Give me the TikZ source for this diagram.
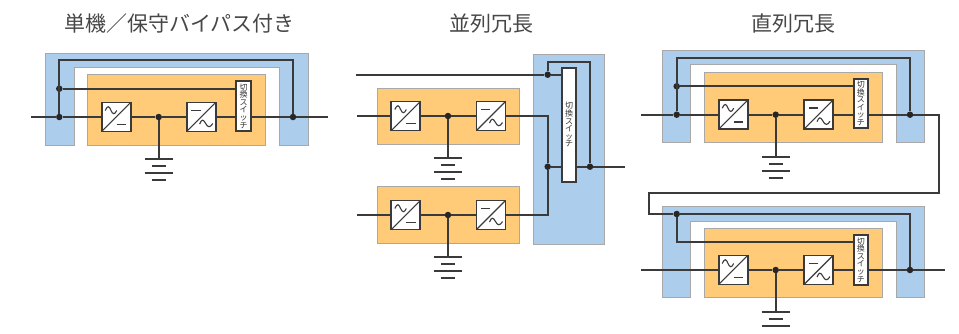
\documentclass[tikz,border=0pt]{standalone}
\usepackage{fontspec}
\setmainfont{Noto Sans CJK JP}
\definecolor{panelorange}{HTML}{FFCB78}
\definecolor{panelblue}{HTML}{ACCDEC}
\definecolor{panelgrey}{HTML}{A8A8A8}
\definecolor{wire}{HTML}{3A3A3A}
\begin{document}
\begin{tikzpicture}[x=1pt, y=-1pt]
        \tikzstyle{heading}=[font=\fontsize{21}{21}\selectfont, text=black!72, inner sep=0pt]
        \tikzstyle{panel}=[rectangle, draw=panelgrey, fill=panelorange, line width=1pt, inner sep=0pt]
        \tikzstyle{bypass}=[draw=panelgrey, fill=panelblue, line width=1pt]
        \tikzstyle{line}=[draw=wire, line width=1.9pt]
        \tikzstyle{dot}=[circle, fill=black!85, inner sep=0pt, minimum size=6.5pt]
        \tikzstyle{conv}=[rectangle, draw=wire, fill=white, line width=1.9pt, inner sep=0pt, minimum size=29pt]
        \tikzstyle{acdc}=[conv, path picture={
            \draw[wire, line width=1.1pt] (path picture bounding box.south west) -- (path picture bounding box.north east);
            \draw[wire, line width=1.1pt, shift={(path picture bounding box.center)}] (-11,-6.5) .. controls (-8.5,-12) and (-7,-11) .. (-5.2,-6.5) .. controls (-3.5,-2.5) and (-1.5,-2) .. (0.5,-6.5);
            \draw[wire, line width=1.1pt, shift={(path picture bounding box.center)}] (0.5,7.3) -- (10,7.3);
        }]
        \tikzstyle{dcac}=[conv, path picture={
            \draw[wire, line width=1.1pt] (path picture bounding box.south west) -- (path picture bounding box.north east);
            \draw[wire, line width=1.1pt, shift={(path picture bounding box.center)}] (-10,-6.7) -- (-0.7,-6.7);
            \draw[wire, line width=1.1pt, shift={(path picture bounding box.center)}] (-1.5,7) .. controls (0.5,2) and (2,2) .. (4.5,6.5) .. controls (6.5,10.5) and (9,11) .. (11.5,6.5);
        }]
        \tikzstyle{switch}=[rectangle, draw=wire, fill=white, line width=1.9pt, inner sep=0pt, minimum width=14.5pt, align=center, text=black!80, font=\fontsize{8}{7.6}\selectfont]
        \tikzstyle{earth}=[rectangle, anchor=north, inner sep=0pt, minimum width=28.4pt, minimum height=24pt, path picture={
            \draw[wire, line width=1.9pt] ([yshift=-1pt]path picture bounding box.north west) -- ([yshift=-1pt]path picture bounding box.north east);
            \draw[wire, line width=1.9pt] ([xshift=7pt,yshift=-8pt]path picture bounding box.north west) -- ([xshift=-7pt,yshift=-8pt]path picture bounding box.north east);
            \draw[wire, line width=1.9pt] ([yshift=-15pt]path picture bounding box.north west) -- ([yshift=-15pt]path picture bounding box.north east);
            \draw[wire, line width=1.9pt] ([xshift=7pt,yshift=-22pt]path picture bounding box.north west) -- ([xshift=-7pt,yshift=-22pt]path picture bounding box.north east);
        }]

        \useasboundingbox (0,0) rectangle (959,333);

        \node[heading] (title-a) at (179.5,24) {単機／保守バイパス付き};
        \node[heading] (title-b) at (491,24) {並列冗長};
        \node[heading] (title-c) at (793,24) {直列冗長};

        % bypass frames
        \draw[bypass] (45,145) -- (45,53) -- (308,53) -- (308,145) -- (279.6,145) -- (279.6,67.5) -- (74.3,67.5) -- (74.3,145) -- cycle;
        \node[rectangle, bypass, minimum width=71pt, minimum height=190pt, inner sep=0pt] (bypass-b) at (568.8,149) {};
        \draw[bypass] (662,142.7) -- (662,50.7) -- (924.7,50.7) -- (924.7,142.7) -- (896,142.7) -- (896,64.7) -- (690.7,64.7) -- (690.7,142.7) -- cycle;
        \draw[bypass] (662,297.7) -- (662,206.7) -- (924.7,206.7) -- (924.7,297.7) -- (896,297.7) -- (896,221) -- (690.7,221) -- (690.7,297.7) -- cycle;

        % orange boxes
        \node[panel, minimum width=177.3pt, minimum height=70.5pt] (panel-a) at (176.4,109.75) {};
        \node[panel, minimum width=142.3pt, minimum height=56pt] (panel-b1) at (448.15,116.3) {};
        \node[panel, minimum width=142.3pt, minimum height=57pt] (panel-b2) at (448.15,215.2) {};
        \node[panel, minimum width=177.3pt, minimum height=70.4pt] (panel-c) at (793.35,107.5) {};
        \node[panel, minimum width=177.3pt, minimum height=69.4pt] (panel-d) at (793.35,263) {};

        % single unit
        \coordinate (in-a) at (31,117);
        \coordinate (out-a) at (328,117);
        \coordinate (top-a) at (176,60.3);
        \node[dot] (dot-a0) at (59.3,88.7) {};
        \node[dot] (dot-a1) at (59.3,117) {};
        \node[dot] (dot-a2) at (158.7,117) {};
        \node[dot] (dot-a3) at (293,117) {};
        \node[acdc] (conv-a1) at (116.2,117) {};
        \node[dcac] (conv-a2) at (201.2,117) {};
        \node[switch, minimum height=50pt] (switch-a) at (243.5,106) {切\\換\\ス\\イ\\ッ\\チ};
        \node[earth] (gnd-a) at (158.7,157.8) {};

        \draw[line] (in-a) -- (dot-a1) -- (conv-a1) -- (dot-a2) -- (conv-a2) -- (conv-a2 -| switch-a.west);
        \draw[line] (dot-a2 -| switch-a.east) -- (dot-a3) -- (out-a);
        \draw[line] (dot-a1) |- (top-a) -| (dot-a3);
        \draw[line] (dot-a0) -- (dot-a0 -| switch-a.west);
        \draw[line] (dot-a2) -- (gnd-a);

        % parallel units
        \coordinate (in-b0) at (355.7,74.7);
        \coordinate (in-b1) at (357.3,116);
        \coordinate (in-b2) at (357.3,215);
        \coordinate (out-b) at (625,166.7);
        \coordinate (top-b) at (570,61.7);
        \node[dot] (dot-b0) at (547.7,74.7) {};
        \node[dot] (dot-b1) at (448,116) {};
        \node[dot] (dot-b2) at (448,215) {};
        \node[dot] (dot-b3) at (547.7,166.7) {};
        \node[dot] (dot-b4) at (590,166.7) {};
        \node[acdc] (conv-b1) at (405.8,116) {};
        \node[dcac] (conv-b2) at (491,116) {};
        \node[acdc] (conv-b3) at (405.8,215) {};
        \node[dcac] (conv-b4) at (491,215) {};
        \node[switch, minimum height=113.7pt] (switch-b) at (569,124.9) {切\\換\\ス\\イ\\ッ\\チ};
        \node[earth] (gnd-b1) at (448,157.2) {};
        \node[earth] (gnd-b2) at (448,255.9) {};

        \draw[line] (in-b0) -- (dot-b0) -- (dot-b0 -| switch-b.west);
        \draw[line] (dot-b0) |- (top-b) -| (dot-b4);
        \draw[line] (in-b1) -- (conv-b1) -- (dot-b1) -- (conv-b2);
        \draw[line] (in-b2) -- (conv-b3) -- (dot-b2) -- (conv-b4);
        \draw[line] (conv-b2) -| (dot-b3);
        \draw[line] (conv-b4) -| (dot-b3);
        \draw[line] (dot-b3) -- (dot-b3 -| switch-b.west);
        \draw[line] (dot-b4 -| switch-b.east) -- (dot-b4) -- (out-b);
        \draw[line] (dot-b1) -- (gnd-b1);
        \draw[line] (dot-b2) -- (gnd-b2);

        % series units
        \coordinate (in-c) at (641.3,114.7);
        \coordinate (top-c) at (793,58);
        \coordinate (turn-c) at (938.7,193.3);
        \coordinate (turn-d) at (648.7,193.3);
        \coordinate (in-d) at (641.3,270);
        \coordinate (out-d) at (945.3,270);
        \coordinate (tap-d) at (853.7,242.3);
        \node[dot] (dot-c0) at (676.7,86.3) {};
        \node[dot] (dot-c1) at (676.7,114.7) {};
        \node[dot] (dot-c2) at (775.7,114.7) {};
        \node[dot] (dot-c3) at (910,114.7) {};
        \node[dot] (dot-d0) at (676.7,214) {};
        \node[dot] (dot-d2) at (775.7,270) {};
        \node[dot] (dot-d3) at (910,270) {};
        \node[acdc] (conv-c1) at (733.2,114.7) {};
        \node[dcac] (conv-c2) at (818.5,114.7) {};
        \node[acdc] (conv-d1) at (733.2,270) {};
        \node[dcac] (conv-d2) at (818.5,270) {};
        \node[switch, minimum height=49.6pt] (switch-c) at (860.8,103.5) {切\\換\\ス\\イ\\ッ\\チ};
        \node[switch, minimum height=50pt] (switch-d) at (860.8,260) {切\\換\\ス\\イ\\ッ\\チ};
        \node[earth] (gnd-c) at (775.7,155.8) {};
        \node[earth, minimum height=17pt] (gnd-d) at (775.7,311.2) {};

        \draw[line] (in-c) -- (dot-c1) -- (conv-c1) -- (dot-c2) -- (conv-c2) -- (conv-c2 -| switch-c.west);
        \draw[line] (dot-c2 -| switch-c.east) -- (dot-c3);
        \draw[line] (dot-c1) |- (top-c) -| (dot-c3);
        \draw[line] (dot-c0) -- (dot-c0 -| switch-c.west);
        \draw[line] (dot-c2) -- (gnd-c);
        \draw[line] (dot-c3) -| (turn-c) -- (turn-d) |- (dot-d0);
        \draw[line] (dot-d0) -| (dot-d3);
        \draw[line] (dot-d0) |- (tap-d);
        \draw[line] (in-d) -- (conv-d1) -- (dot-d2) -- (conv-d2) -- (conv-d2 -| switch-d.west);
        \draw[line] (dot-d2 -| switch-d.east) -- (dot-d3) -- (out-d);
        \draw[line] (dot-d2) -- (gnd-d);
    \end{tikzpicture}
\end{document}
